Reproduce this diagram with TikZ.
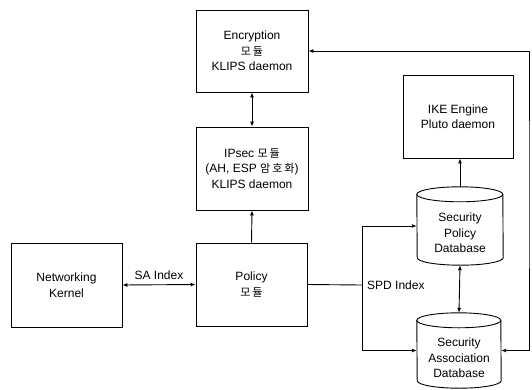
\documentclass[tikz,border=0pt]{standalone}
\usepackage{fontspec}
\setmainfont{Liberation Sans}
\newfontfamily\kr{Noto Sans CJK KR}[Scale=0.92, LetterSpace=18]
\usetikzlibrary{arrows.meta}
\begin{document}
\begin{tikzpicture}[x=1pt,y=1pt,
  every node/.style={font=\fontsize{12}{15.5}\selectfont, align=center},
  box/.style={draw, line width=0.9pt, minimum width=#1, inner sep=0pt},
  cylbody/.style={inner sep=0pt},
  con/.style={line width=0.9pt, -{Latex[length=5pt,width=4pt]}},
  dcon/.style={line width=0.9pt, {Latex[length=5pt,width=4pt]}-{Latex[length=5pt,width=4pt]}},
  lab/.style={inner sep=1pt}
]
\useasboundingbox (0,0) rectangle (532,389);

% boxes
\node[box=112pt, minimum height=82pt] (enc) at (252,338) {Encryption\\{\kr 모듈}\\KLIPS daemon};
\node[box=112pt, minimum height=83pt] (ipsec) at (252,220.5) {IPsec {\kr 모듈}\\(AH, ESP {\kr 암호화})\\KLIPS daemon};
\node[box=110pt, minimum height=83pt] (ike) at (458,272.5) {IKE Engine\\Pluto daemon};
\node[box=111pt, minimum height=84pt] (nk) at (66.5,104) {Networking\\Kernel};
\node[box=111pt, minimum height=83pt] (pol) at (251.5,104.5) {Policy\\{\kr 모듈}};

% cylinders (databases)
\node[cylbody, minimum width=86pt, minimum height=78pt] (spd) at (460,163) {};
\node[cylbody, minimum width=84pt, minimum height=75pt] (sad) at (459,38.5) {};
\foreach \n/\r in {spd/43pt, sad/42pt}{
  \draw[line width=0.9pt] ([yshift=-7.5pt]\n.north west) arc[start angle=180, end angle=0, x radius=\r, y radius=7.5pt]
     -- ([yshift=7.5pt]\n.south east) arc[start angle=0, end angle=-180, x radius=\r, y radius=7.5pt] -- cycle;
  \draw[line width=0.9pt] ([yshift=-7.5pt]\n.north west) arc[start angle=180, end angle=360, x radius=\r, y radius=7.5pt];
}
\node (spdt) at (460,156) {Security\\Policy\\Database};
\node (sadt) at (459,31) {Security\\Association\\Database};

% connectors
\draw[dcon] (enc.south) -- (ipsec.north);
\draw[con] (pol.north) -- (ipsec.south);
\draw[dcon] (nk.east) -- node[lab, above=4pt] (sal) {SA Index} (pol.east -| pol.west);
\coordinate (jx) at (362,104);
\draw[line width=0.9pt] (pol.east) -- (jx);
\draw[con] (jx) |- (spd.west);
\draw[con] (jx) |- (sad.west);
\node[lab, anchor=west] (spdl) at (366,104) {SPD Index};
\draw[con] (spd.north) -- (spd.north |- ike.south);
\draw[dcon] (spd.south) -- (sad.north);
\coordinate (rx) at (529,200);
\draw[dcon] (enc.east) -| (rx) |- (sad.east);
\end{tikzpicture}
\end{document}
